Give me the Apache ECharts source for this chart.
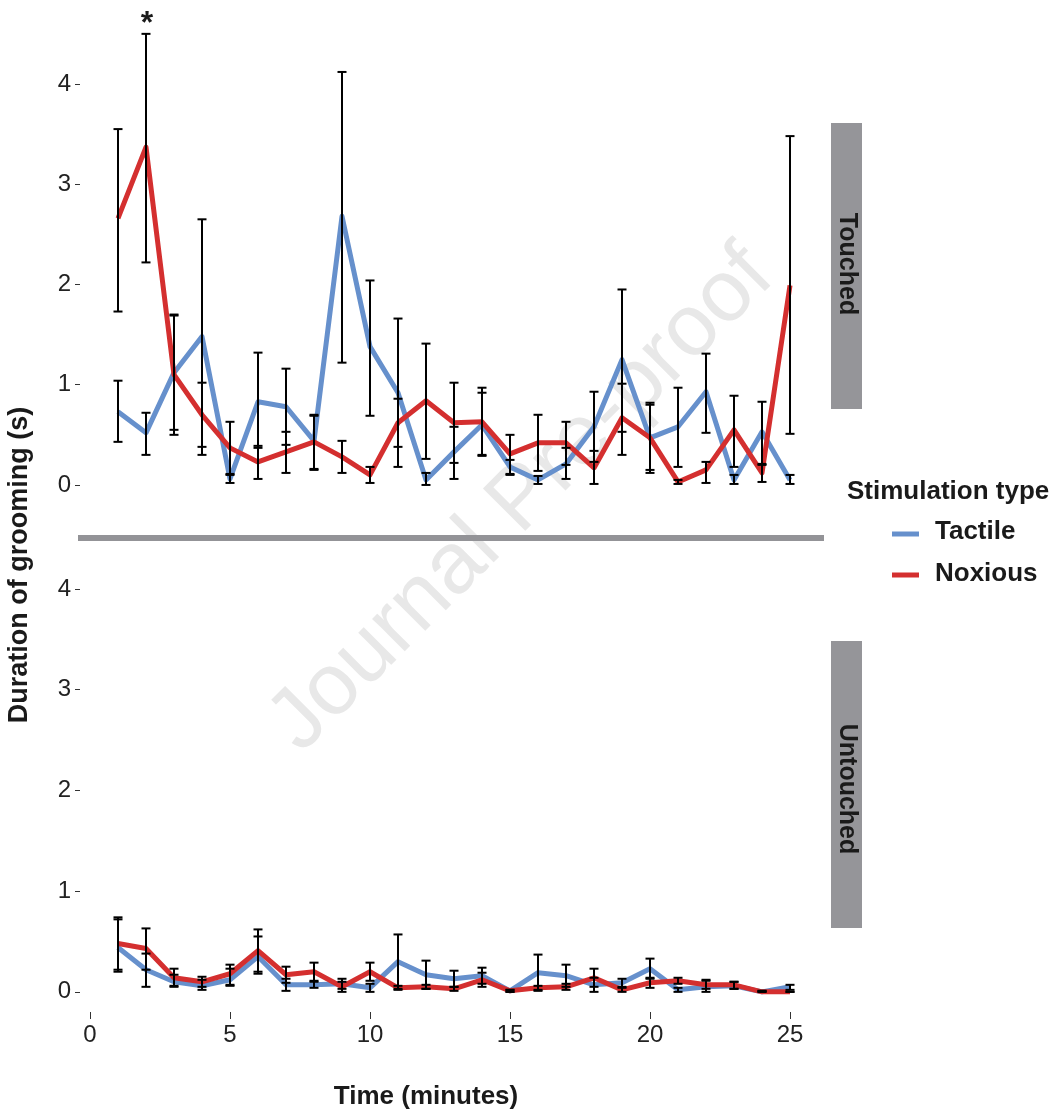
<!DOCTYPE html>
<html>
<head>
<meta charset="utf-8">
<script src="https://cdn.jsdelivr.net/npm/echarts@6/dist/echarts.min.js"></script>
<style>html,body{margin:0;padding:0;background:#fff}#c{width:1061px;height:1116px}</style>
</head>
<body>
<div id="c"></div>
<script>
// ---------- data ----------
const minutes = [1,2,3,4,5,6,7,8,9,10,11,12,13,14,15,16,17,18,19,20,21,22,23,24,25];

const touchedTactile   = [0.73,0.52,1.12,1.48,0.06,0.83,0.78,0.44,2.68,1.38,0.92,0.05,0.33,0.60,0.18,0.05,0.21,0.58,1.25,0.47,0.58,0.93,0.05,0.53,0.05];
const touchedTactileLo = [0.43,0.30,0.55,0.30,0.02,0.37,0.40,0.16,1.22,0.69,0.18,0.00,0.06,0.29,0.10,0.01,0.06,0.23,0.53,0.12,0.18,0.52,0.01,0.21,0.01];
const touchedTactileHi = [1.04,0.72,1.69,2.65,0.10,1.32,1.16,0.70,4.12,2.04,1.66,0.12,0.58,0.92,0.25,0.09,0.37,0.93,1.95,0.82,0.97,1.31,0.10,0.83,0.10];

const touchedNoxious   = [2.66,3.37,1.10,0.70,0.37,0.23,0.33,0.43,0.28,0.10,0.62,0.84,0.62,0.63,0.31,0.42,0.42,0.17,0.67,0.47,0.03,0.15,0.55,0.12,1.99];
const touchedNoxiousLo = [1.73,2.22,0.50,0.38,0.11,0.06,0.12,0.15,0.12,0.02,0.38,0.26,0.22,0.30,0.11,0.14,0.20,0.01,0.30,0.15,0.01,0.02,0.18,0.03,0.51];
const touchedNoxiousHi = [3.55,4.50,1.70,1.02,0.63,0.39,0.53,0.69,0.44,0.18,0.86,1.41,1.02,0.97,0.50,0.70,0.63,0.34,1.01,0.80,0.05,0.23,0.89,0.20,3.48];

const untouchedTactile   = [0.44,0.22,0.10,0.06,0.12,0.35,0.07,0.07,0.08,0.04,0.30,0.17,0.13,0.16,0.01,0.19,0.16,0.07,0.09,0.23,0.02,0.05,0.06,0.00,0.05];
const untouchedTactileLo = [0.20,0.05,0.05,0.02,0.06,0.18,0.01,0.04,0.03,0.00,0.03,0.03,0.05,0.08,0.00,0.01,0.05,0.00,0.05,0.13,0.00,0.00,0.03,0.00,0.02];
const untouchedTactileHi = [0.72,0.38,0.17,0.12,0.23,0.55,0.13,0.10,0.13,0.08,0.57,0.31,0.21,0.24,0.02,0.37,0.27,0.14,0.13,0.33,0.04,0.12,0.10,0.01,0.07];

const untouchedNoxious   = [0.48,0.43,0.14,0.10,0.18,0.41,0.17,0.20,0.05,0.20,0.04,0.05,0.03,0.12,0.01,0.04,0.05,0.14,0.02,0.09,0.11,0.07,0.07,0.00,0.00];
const untouchedNoxiousLo = [0.22,0.22,0.06,0.05,0.07,0.20,0.09,0.11,0.00,0.11,0.02,0.03,0.01,0.05,0.00,0.02,0.02,0.05,0.00,0.04,0.08,0.03,0.03,0.00,0.00];
const untouchedNoxiousHi = [0.74,0.63,0.23,0.15,0.27,0.62,0.25,0.29,0.10,0.29,0.06,0.07,0.05,0.19,0.02,0.06,0.08,0.23,0.04,0.14,0.14,0.11,0.10,0.01,0.00];

const yTicks = [0,1,2,3,4];
const xTicks = [0,5,10,15,20,25];
const seriesNames = ['Tactile','Noxious'];
const panelNames = ['Touched','Untouched'];

// ---------- styling ----------
const BLUE = '#6690cc', RED = '#d42f2f', STRIP = '#959599', TXT = '#1a1a1a';
const FONT = '"Liberation Sans", Arial, Helvetica, sans-serif';

function pairs(ys){ return minutes.map((m,i)=>[m, ys[i]]); }
function triples(lo,hi){ return minutes.map((m,i)=>[m, lo[i], hi[i]]); }

function errRender(params, api){
  const x = api.value(0), lo = api.value(1), hi = api.value(2);
  const a = api.coord([x, lo]), b = api.coord([x, hi]);
  const w = 4.5;
  const st = {stroke:'#000', lineWidth:2};
  return {type:'group', children:[
    {type:'line', shape:{x1:a[0],y1:a[1],x2:b[0],y2:b[1]}, style:st},
    {type:'line', shape:{x1:a[0]-w,y1:a[1],x2:a[0]+w,y2:a[1]}, style:st},
    {type:'line', shape:{x1:b[0]-w,y1:b[1],x2:b[0]+w,y2:b[1]}, style:st}
  ]};
}

function lineSeries(name, data, color, idx){
  return {type:'line', name, data:pairs(data), xAxisIndex:idx, yAxisIndex:idx,
    showSymbol:false, symbol:'none', smooth:false, z:2, silent:true,
    lineStyle:{color, width:5, join:'round'}, itemStyle:{color}};
}
function errSeries(name, lo, hi, idx){
  return {type:'custom', name, data:triples(lo,hi), xAxisIndex:idx, yAxisIndex:idx,
    renderItem:errRender, z:3, silent:true, clip:false,
    encode:{x:0, y:[1,2]}};
}

const XMIN = -0.357, XMAX = 26.214;

const yAxisCommon = {
  type:'value', splitLine:{show:false}, axisLine:{show:false, onZero:false},
  axisTick:{show:true, length:5, lineStyle:{color:'#333', width:1}, customValues:yTicks},
  axisLabel:{show:true, fontSize:24, color:'#222', fontFamily:FONT, margin:9, customValues:yTicks}
};

const option = {
  backgroundColor:'#fff',
  animation:false,
  grid:[
    {left:80, top:10, width:744, height:495},
    {left:80, top:545, width:744, height:467}
  ],
  xAxis:[
    {type:'value', gridIndex:0, min:XMIN, max:XMAX, show:false},
    {type:'value', gridIndex:1, min:XMIN, max:XMAX, splitLine:{show:false}, axisLine:{show:false, onZero:false},
     axisTick:{show:true, length:7, lineStyle:{color:'#333', width:1}, customValues:xTicks},
     axisLabel:{show:true, fontSize:24, color:'#222', fontFamily:FONT, margin:11, customValues:xTicks}}
  ],
  yAxis:[
    Object.assign({gridIndex:0, min:-0.2, max:4.738}, yAxisCommon),
    Object.assign({gridIndex:1, min:-0.2, max:4.437}, yAxisCommon)
  ],
  series:[
    lineSeries(seriesNames[0], touchedTactile, BLUE, 0),
    lineSeries(seriesNames[1], touchedNoxious, RED, 0),
    errSeries(seriesNames[0], touchedTactileLo, touchedTactileHi, 0),
    errSeries(seriesNames[1], touchedNoxiousLo, touchedNoxiousHi, 0),
    lineSeries(seriesNames[0], untouchedTactile, BLUE, 1),
    lineSeries(seriesNames[1], untouchedNoxious, RED, 1),
    errSeries(seriesNames[0], untouchedTactileLo, untouchedTactileHi, 1),
    errSeries(seriesNames[1], untouchedNoxiousLo, untouchedNoxiousHi, 1)
  ],
  graphic:[
    // watermark
    {type:'text', x:522, y:500, rotation:Math.PI/4, z:0, silent:true,
     style:{text:'Journal Pre-proof', font:'87px '+FONT, fill:'#e8e8e8', align:'center', verticalAlign:'middle'}},
    // separator between panels
    {type:'rect', shape:{x:78, y:535, width:746, height:6}, style:{fill:'#939397'}, z:1},
    // strips
    {type:'rect', shape:{x:831, y:123, width:31, height:286}, style:{fill:STRIP}, z:1},
    {type:'text', x:846.5, y:264, rotation:-Math.PI/2, z:2,
     style:{text:panelNames[0], font:'bold 25px '+FONT, fill:TXT, align:'center', verticalAlign:'middle'}},
    {type:'rect', shape:{x:831, y:641, width:31, height:287}, style:{fill:STRIP}, z:1},
    {type:'text', x:846.5, y:789, rotation:-Math.PI/2, z:2,
     style:{text:panelNames[1], font:'bold 25px '+FONT, fill:TXT, align:'center', verticalAlign:'middle'}},
    // significance star
    {type:'text', x:147, y:24, z:4,
     style:{text:'*', font:'bold 32px '+FONT, fill:TXT, align:'center', verticalAlign:'middle'}},
    // axis titles
    {type:'text', x:20, y:565, rotation:Math.PI/2, z:2,
     style:{text:'Duration of grooming (s)', font:'bold 27px '+FONT, fill:TXT, align:'center', verticalAlign:'middle'}},
    {type:'text', x:426, y:1097, z:2,
     style:{text:'Time (minutes)', font:'bold 26px '+FONT, fill:TXT, align:'center', verticalAlign:'middle'}},
    // legend
    {type:'text', x:847, y:492, z:2,
     style:{text:'Stimulation type', font:'bold 26px '+FONT, fill:TXT, align:'left', verticalAlign:'middle'}},
    {type:'line', shape:{x1:892, y1:534, x2:919, y2:534}, style:{stroke:BLUE, lineWidth:5}, z:2},
    {type:'text', x:935, y:532, z:2,
     style:{text:seriesNames[0], font:'bold 26px '+FONT, fill:TXT, align:'left', verticalAlign:'middle'}},
    {type:'line', shape:{x1:892, y1:575, x2:919, y2:575}, style:{stroke:RED, lineWidth:5}, z:2},
    {type:'text', x:935, y:574, z:2,
     style:{text:seriesNames[1], font:'bold 26px '+FONT, fill:TXT, align:'left', verticalAlign:'middle'}}
  ]
};

const chart = echarts.init(document.getElementById('c'), null, {renderer:'canvas'});
chart.setOption(option);
</script>
</body>
</html>
